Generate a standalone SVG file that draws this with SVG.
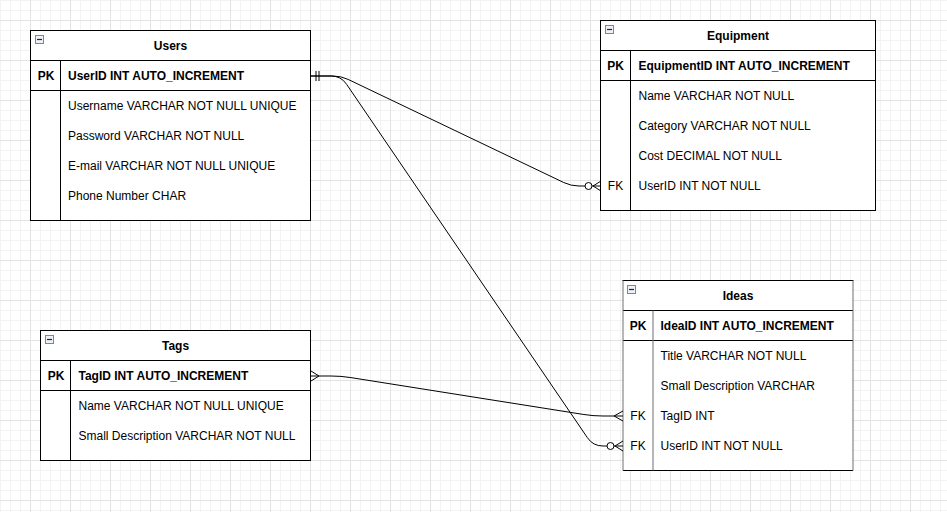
<svg xmlns="http://www.w3.org/2000/svg" width="947" height="512" viewBox="0 0 947 512">
<defs>
<pattern id="grid" x="30" y="20" width="40" height="40" patternUnits="userSpaceOnUse">
<path d="M10.5,0V40M20.5,0V40M30.5,0V40M0,10.5H40M0,20.5H40M0,30.5H40" stroke="#f3f3f3" stroke-width="1" fill="none"/>
<path d="M0.5,0V40M0,0.5H40" stroke="#e3e3e3" stroke-width="1" fill="none"/>
</pattern>
<g id="minus">
<rect x="0.5" y="0.5" width="8" height="8" fill="#eef1f5" stroke="#7b8593"/>
<path d="M2,4.5H7" stroke="#222" stroke-width="1.2"/>
</g>
</defs>
<style>
.box{fill:#fff;stroke:#000;stroke-width:1}
.ln{stroke:#000;stroke-width:1;fill:none}
.gl{stroke:#6f6f6f;stroke-width:1;fill:none}
text{font-family:"Liberation Sans",Arial,Helvetica,sans-serif;font-size:12px;fill:#000}
.t{font-weight:bold;text-anchor:middle}
.b{font-weight:bold}
.k{text-anchor:middle}
.c{stroke:#000;stroke-width:1;fill:none}
</style>
<rect width="947" height="512" fill="#fff"/>
<rect width="947" height="512" fill="url(#grid)"/>

<g id="users">
<rect class="box" x="30.5" y="30.5" width="280" height="190"/>
<path class="ln" d="M30.5,60.5H310.5M30.5,90.5H310.5M60.5,60.5V220.5"/>
<use href="#minus" x="35" y="35"/>
<text class="t" x="170.5" y="50">Users</text>
<text class="b k" x="46" y="80">PK</text>
<text class="b" x="68" y="80">UserID INT AUTO_INCREMENT</text>
<text x="68" y="110">Username VARCHAR NOT NULL UNIQUE</text>
<text x="68" y="140">Password VARCHAR NOT NULL</text>
<text x="68" y="170">E-mail VARCHAR NOT NULL UNIQUE</text>
<text x="68" y="200">Phone Number CHAR</text>
</g>

<g id="equipment">
<rect class="box" x="600.5" y="20.5" width="275" height="190"/>
<path class="ln" d="M600.5,50.5H875.5M600.5,80.5H875.5M630.5,50.5V210.5"/>
<use href="#minus" x="605" y="25"/>
<text class="t" x="738" y="40">Equipment</text>
<text class="b k" x="615.5" y="70">PK</text>
<text class="b" x="638.5" y="70">EquipmentID INT AUTO_INCREMENT</text>
<text x="638.5" y="100">Name VARCHAR NOT NULL</text>
<text x="638.5" y="130">Category VARCHAR NOT NULL</text>
<text x="638.5" y="160">Cost DECIMAL NOT NULL</text>
<text class="k" x="615.5" y="190">FK</text>
<text x="638.5" y="190">UserID INT NOT NULL</text>
</g>

<g id="tags">
<rect class="box" x="40.5" y="330.5" width="270" height="130"/>
<path class="ln" d="M40.5,360.5H310.5M40.5,390.5H310.5M70.5,360.5V460.5"/>
<use href="#minus" x="45" y="335"/>
<text class="t" x="175.5" y="350">Tags</text>
<text class="b k" x="56" y="380">PK</text>
<text class="b" x="78.5" y="380">TagID INT AUTO_INCREMENT</text>
<text x="78.5" y="410">Name VARCHAR NOT NULL UNIQUE</text>
<text x="78.5" y="440">Small Description VARCHAR NOT NULL</text>
</g>

<g id="ideas">
<rect x="623" y="280.5" width="230" height="190" fill="#fff"/>
<path class="ln" d="M622.5,280.5H853.5M623,310.5H853M623,340.5H853M623,470.5H853"/>
<path class="gl" d="M623,280.5V470.5M853,280.5V470.5M653,310.5V470.5"/>
<use href="#minus" x="627" y="285"/>
<text class="t" x="738" y="300">Ideas</text>
<text class="b k" x="638" y="330">PK</text>
<text class="b" x="660.5" y="330">IdeaID INT AUTO_INCREMENT</text>
<text x="660.5" y="360">Title VARCHAR NOT NULL</text>
<text x="660.5" y="390">Small Description VARCHAR</text>
<text class="k" x="638" y="420">FK</text>
<text x="660.5" y="420">TagID INT</text>
<text class="k" x="638" y="450">FK</text>
<text x="660.5" y="450">UserID INT NOT NULL</text>
</g>

<g id="connectors">
<path class="c" d="M311,76H333Q341,76 348.2,79.45L563.8,182.55Q571,186 579,186H585"/>
<circle class="c" cx="588.5" cy="186" r="3.5"/>
<path class="c" d="M592,186H601M601,181L593,186L601,191"/>
<path class="c" d="M316,71V81M319,71V81"/>

<path class="c" d="M311,76H331Q341,76 346.6,84.3L587.4,437.7Q593,446 603,446H607"/>
<circle class="c" cx="610.5" cy="446" r="3.5"/>
<path class="c" d="M614,446H623M623,441L615,446L623,451"/>

<path class="c" d="M311,376H331Q341,376 350.9,377.6L583.1,414.4Q593,416 603,416H623"/>
<path class="c" d="M311,371L319,376L311,381"/>
<path class="c" d="M623,411L614,416L623,421"/>
</g>
</svg>
